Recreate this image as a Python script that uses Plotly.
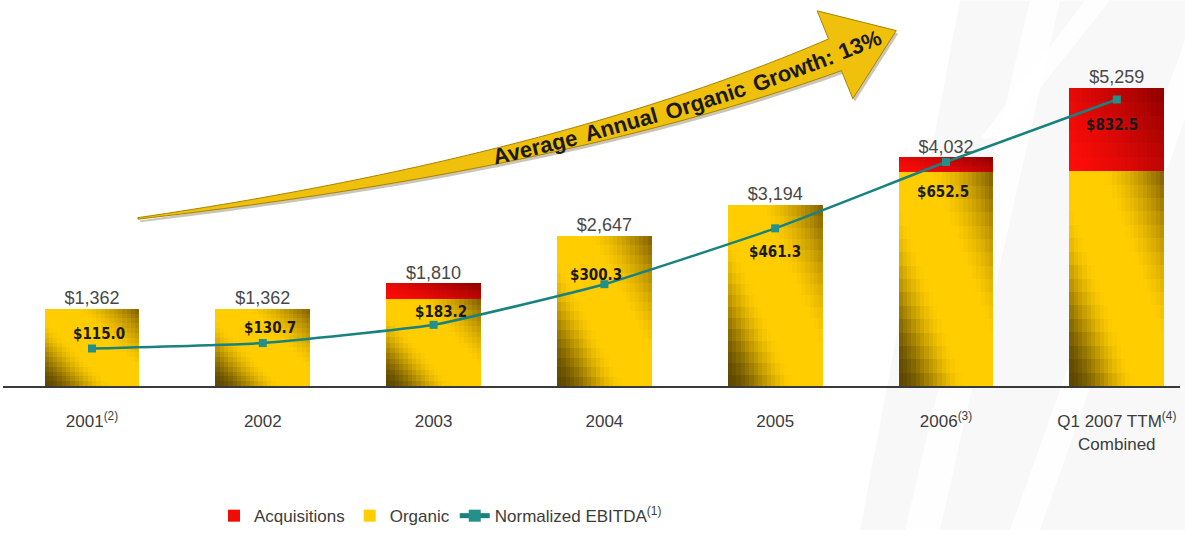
import math
import numpy as np
import plotly.graph_objects as go

# ---- data -------------------------------------------------------------
categories = ["2001", "2002", "2003", "2004", "2005", "2006", "Q1 2007 TTM"]
tick_text = ["2001<sup>(2)</sup>", "2002", "2003", "2004", "2005",
             "2006<sup>(3)</sup>", "Q1 2007 TTM<sup>(4)</sup><br>Combined"]
organic = [1362, 1362, 1530, 2647, 3194, 3772, 3790]
acquisitions = [0, 0, 280, 0, 0, 260, 1469]
ebitda = [115.0, 130.7, 183.2, 300.3, 461.3, 652.5, 832.5]
growth_words = ["Average", "Annual", "Organic", "Growth:", "13%"]

# ---- layout constants -------------------------------------------------
FIG_W, FIG_H = 1185, 537
M_L, M_R, M_T, M_B = 3, 5, 40, 146
PLOT_W = FIG_W - M_L - M_R
PLOT_H = FIG_H - M_T - M_B
FONT = "Liberation Sans, Arial, sans-serif"
TEXT_GREY = "#3c3c3c"

BAR_W = 0.556
N_COL, N_ROW_ORG, N_ROW_ACQ = 22, 16, 6
LABEL_DX = [7, 7, 7, -8, 0, -3, -5]
LABEL_DY = [15, 15, 13, 9, -24, -30, -25]


def paper(px, py):
    """Pixel position on the page -> paper coordinates of the plot area."""
    return (px - M_L) / PLOT_W, (FIG_H - M_B - py) / PLOT_H


def lerp(c0, c1, f):
    f = min(max(f, 0.0), 1.0)
    return tuple(a + (b - a) * f for a, b in zip(c0, c1))


def rgb(c):
    return "rgb(%d,%d,%d)" % tuple(int(round(x)) for x in c)


def gold(u, v):
    s = 0.55 * u + 0.45 * v
    dark_lo, bright, dark_hi = (92, 70, 0), (255, 205, 0), (125, 92, 0)
    if s < 0.40:
        f = s / 0.40
        f = f * f * (3 - 2 * f)
        return rgb(lerp(dark_lo, bright, f))
    if s < 0.64:
        return rgb(bright)
    f = (s - 0.64) / 0.36
    return rgb(lerp(bright, dark_hi, f ** 1.4))


def red(u, v):
    s = 0.65 * u + 0.35 * v
    return rgb(lerp((255, 12, 8), (140, 0, 0), s ** 1.4))


org = np.array(organic, dtype=float)
acq = np.array(acquisitions, dtype=float)
totals = org + acq
idx = list(range(len(categories)))

fig = go.Figure()

# ---- shaded organic bars (overlapping cells avoid seams) ---------------
for j in range(N_ROW_ORG):
    frac = j / N_ROW_ORG
    for i in range(N_COL):
        u, v = (i + 0.5) / N_COL, (j + 0.5) / N_ROW_ORG
        left = -BAR_W / 2 + i * BAR_W / N_COL
        show = (i == N_COL // 2 and j == N_ROW_ORG // 2)
        fig.add_bar(x=categories, y=org * (1 - frac), base=org * frac,
                    offset=left, width=BAR_W / 2 - left,
                    marker=dict(color=gold(u, v), line_width=0),
                    name="Organic", legendgroup="org", showlegend=show,
                    legendrank=2, hoverinfo="skip")

# ---- acquisitions stacked on top ---------------------------------------
for j in range(N_ROW_ACQ):
    frac = j / N_ROW_ACQ
    for i in range(N_COL):
        u, v = (i + 0.5) / N_COL, (j + 0.5) / N_ROW_ACQ
        left = -BAR_W / 2 + i * BAR_W / N_COL
        show = (i == 4 and j == 1)
        fig.add_bar(x=categories, y=acq * (1 - frac), base=org + acq * frac,
                    offset=left, width=BAR_W / 2 - left,
                    marker=dict(color=red(u, v), line_width=0),
                    name="Acquisitions", legendgroup="acq", showlegend=show,
                    legendrank=1, hoverinfo="skip")

# ---- total labels -----------------------------------------------------
fig.add_scatter(x=categories, y=totals, mode="text",
                text=["$" + f"{int(t):,}" for t in totals],
                textposition="top center",
                textfont=dict(family=FONT, size=18, color="#484848"),
                showlegend=False, hoverinfo="skip")

# ---- EBITDA line --------------------------------------------------------
fig.add_scatter(x=categories, y=ebitda, yaxis="y2", mode="lines+markers",
                line=dict(color="#17827f", width=2.5, shape="spline", smoothing=0.4),
                marker=dict(symbol="square", size=8, color="#22908b"),
                name="Normalized EBITDA<sup>(1)</sup>", legendrank=3,
                hoverinfo="skip")

annotations = []
for k, val in zip(idx, ebitda):
    annotations.append(dict(
        x=k, y=val, xref="x", yref="y2", text="<b>$%.1f</b>" % val,
        showarrow=False, xshift=LABEL_DX[k], yshift=LABEL_DY[k],
        font=dict(family="DejaVu Sans Condensed, DejaVu Sans, sans-serif",
                  size=15, color="#1a1a1a")))

# ---- growth arrow ------------------------------------------------------
P0, C, P1 = np.array([138.0, 221.0]), np.array([560.0, 165.0]), np.array([835.0, 55.0])
d1 = (P1 - C) / np.linalg.norm(P1 - C)
n1 = np.array([d1[1], -d1[0]])


def bez(t):
    return (1 - t) ** 2 * P0 + 2 * t * (1 - t) * C + t ** 2 * P1


def bez_d(t):
    return 2 * (1 - t) * (C - P0) + 2 * t * (P1 - C)


ts = np.linspace(0, 1, 60)
upper, lower = [], []
for t in ts:
    d = bez_d(t)
    d = d / np.linalg.norm(d)
    n = np.array([d[1], -d[0]])
    w = 0.8 + 16.5 * t ** 1.1
    upper.append(bez(t) + n * w)
    lower.append(bez(t) - n * w)
head = [P1 + n1 * 48, P1 + d1 * 66, P1 - n1 * 48]
outline = upper + head + lower[::-1]


def path_of(points, dx=0.0, dy=0.0):
    segs = []
    for k, p in enumerate(points):
        x, y = paper(p[0] + dx, p[1] + dy)
        segs.append(("M" if k == 0 else "L") + "%.5f,%.5f" % (x, y))
    return " ".join(segs) + " Z"


shapes = []
# faint architectural backdrop on the right
backdrop = [
    ([(860, 537), (1185, 537), (1185, 0), (960, 0)], "rgba(110,110,110,0.05)"),
    ([(905, 537), (940, 537), (1060, 0), (1030, 0)], "rgba(255,255,255,0.85)"),
    ([(1010, 537), (1040, 537), (1185, 120), (1185, 40)], "rgba(255,255,255,0.8)"),
    ([(980, 140), (1000, 140), (1110, 0), (1085, 0)], "rgba(255,255,255,0.8)"),
]
for pts_, col in backdrop:
    shapes.append(dict(type="path", xref="paper", yref="paper", layer="below",
                       path=path_of(pts_), fillcolor=col, line_width=0))

shapes.append(dict(type="path", xref="paper", yref="paper", layer="above",
                   path=path_of(outline, 2, 3), fillcolor="rgba(60,50,0,0.28)",
                   line_width=0))
shapes.append(dict(type="path", xref="paper", yref="paper", layer="above",
                   path=path_of(outline), fillcolor="#EFC00C",
                   line=dict(color="#A98300", width=1)))

# words placed along the arrow's centre line
dense_t = np.linspace(0, 1.12, 2000)
pts = []
for t in dense_t:
    pts.append(bez(t) if t <= 1 else P1 + d1 * np.linalg.norm(bez_d(1)) * (t - 1))
pts = np.array(pts)
arc = np.concatenate([[0], np.cumsum(np.linalg.norm(np.diff(pts, axis=0), axis=1))])

ADV = {"A": 722, "v": 556, "e": 556, "r": 389, "a": 556, "g": 611, "n": 611,
       "u": 611, "l": 278, "O": 778, "i": 278, "c": 556, "G": 778, "o": 611,
       "w": 778, "t": 333, "h": 611, ":": 333, "1": 556, "3": 556, "%": 889}
WORD_SIZE = 22
STRETCH = 1.06
widths = [sum(ADV[ch] for ch in w) / 1000 * WORD_SIZE * STRETCH for w in growth_words]
s_start = arc[np.argmin(np.abs(pts[:, 0] - 490))]
s_end = arc[np.argmin(np.abs(pts[:, 0] - 882))]
gap = (s_end - s_start - sum(widths)) / (len(growth_words) - 1)
pos = s_start
for word, wdt in zip(growth_words, widths):
    s_mid = pos + wdt / 2
    k = int(np.argmin(np.abs(arc - s_mid)))
    k0, k1 = max(k - 5, 0), min(k + 5, len(pts) - 1)
    ang = math.degrees(math.atan2(pts[k1, 1] - pts[k0, 1], pts[k1, 0] - pts[k0, 0]))
    x, y = paper(pts[k, 0], pts[k, 1])
    annotations.append(dict(x=x, y=y, xref="paper", yref="paper",
                            text="<b>%s</b>" % word, showarrow=False,
                            textangle=ang, xanchor="center", yanchor="middle",
                            font=dict(family=FONT, size=WORD_SIZE, color="#1a1a1a")))
    pos += wdt + gap

# ---- axes & layout -----------------------------------------------------
lx, ly = paper(214, 523)
fig.update_layout(
    width=FIG_W, height=FIG_H,
    margin=dict(l=M_L, r=M_R, t=M_T, b=M_B, pad=0),
    paper_bgcolor="white", plot_bgcolor="rgba(0,0,0,0)",
    barmode="overlay", bargap=0,
    font=dict(family=FONT, color=TEXT_GREY),
    xaxis=dict(type="category", categoryorder="array", categoryarray=categories,
               range=[-0.521, 6.370], tickvals=categories, ticktext=tick_text,
               showline=True, linecolor="#3a3a3a", linewidth=2,
               ticks="outside", ticklen=19, tickcolor="rgba(0,0,0,0)",
               tickfont=dict(family=FONT, size=17, color=TEXT_GREY),
               showgrid=False, zeroline=False, fixedrange=True),
    yaxis=dict(range=[0, 6104], visible=False, fixedrange=True),
    yaxis2=dict(range=[7, 1004], overlaying="y", visible=False, fixedrange=True),
    legend=dict(orientation="h", x=lx, y=ly, xanchor="left", yanchor="middle",
                font=dict(family=FONT, size=17, color=TEXT_GREY),
                bgcolor="rgba(0,0,0,0)", itemsizing="constant"),
    shapes=shapes,
    annotations=annotations,
    showlegend=True,
)

fig.write_html("out.html")
